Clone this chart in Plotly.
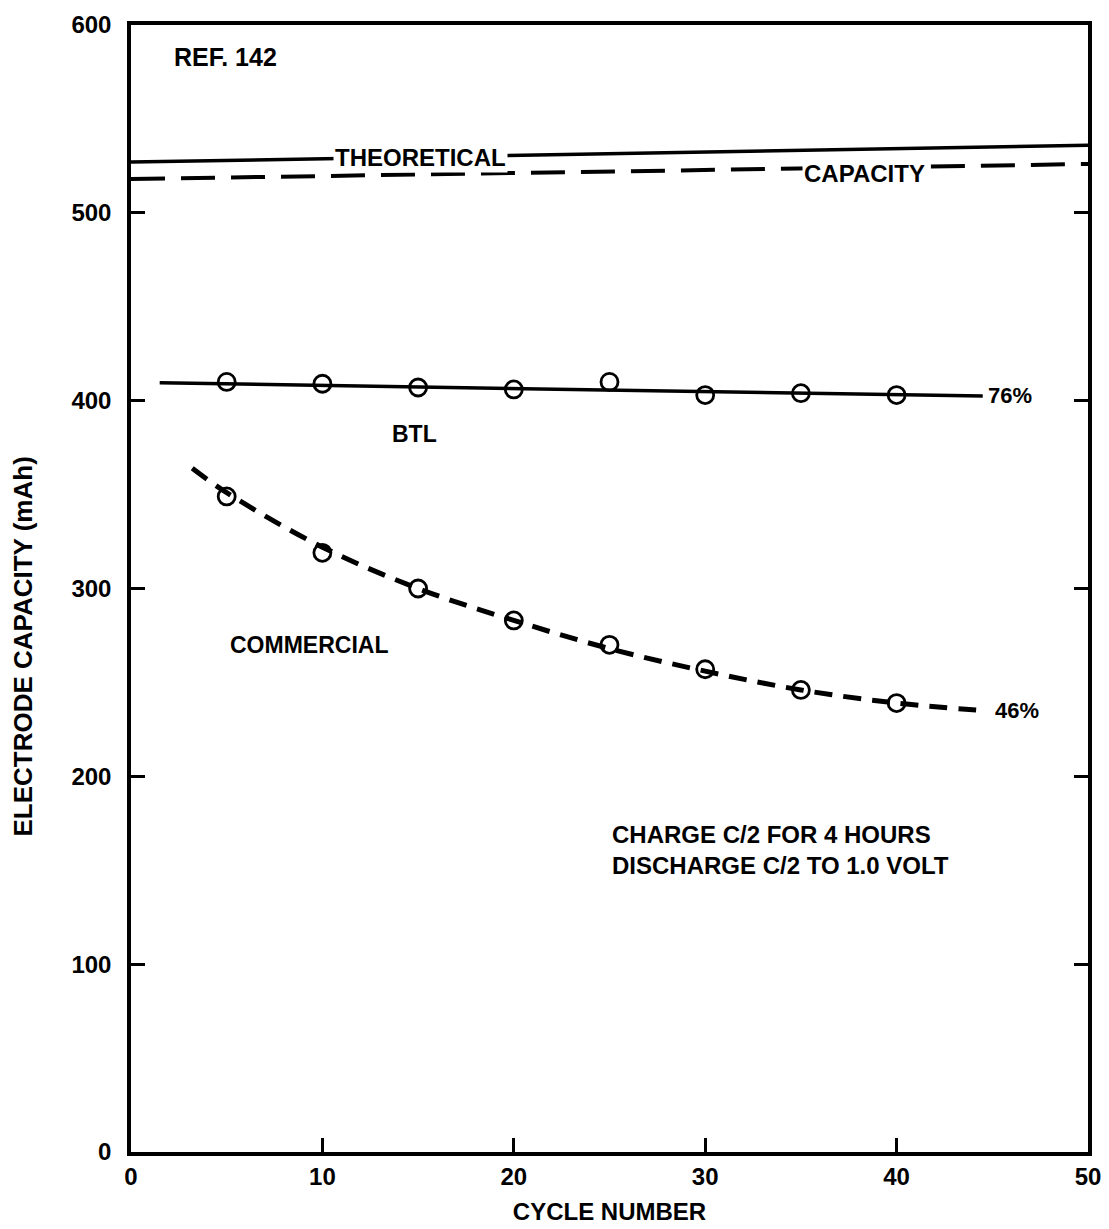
import plotly.graph_objects as go

# --- data ---
cycles = [5, 10, 15, 20, 25, 30, 35, 40]
btl_capacity = [410, 409, 407, 406, 410, 403, 404, 403]
commercial_capacity = [349, 319, 300, 283, 270, 257, 246, 239]

btl_fit_x = [1.5, 44.5]
btl_fit_y = [409.5, 402.5]

commercial_fit_x = [3.2, 5, 10, 15, 20, 25, 30, 35, 40, 44.6]
commercial_fit_y = [364, 351, 322, 300, 283, 268, 256, 246, 239, 235]

theoretical_solid_x = [0, 50]
theoretical_solid_y = [527, 536]
theoretical_dashed_x = [0, 50]
theoretical_dashed_y = [518, 526]

x_ticks = [0, 10, 20, 30, 40, 50]
y_ticks = [0, 100, 200, 300, 400, 500, 600]

FONT = "Liberation Sans"
fig = go.Figure()

fig.add_trace(go.Scatter(x=theoretical_solid_x, y=theoretical_solid_y, mode="lines",
                         line=dict(color="black", width=3.5), showlegend=False))
fig.add_trace(go.Scatter(x=theoretical_dashed_x, y=theoretical_dashed_y, mode="lines",
                         line=dict(color="black", width=4, dash="34px,16px"), showlegend=False))
fig.add_trace(go.Scatter(x=btl_fit_x, y=btl_fit_y, mode="lines",
                         line=dict(color="black", width=3.5), showlegend=False))
fig.add_trace(go.Scatter(x=commercial_fit_x, y=commercial_fit_y, mode="lines",
                         line=dict(color="black", width=5, dash="18px,11px", shape="spline"),
                         showlegend=False))
fig.add_trace(go.Scatter(x=cycles, y=btl_capacity, mode="markers",
                         marker=dict(symbol="circle-open", size=17, color="black",
                                     line=dict(width=2.8, color="black")), showlegend=False))
fig.add_trace(go.Scatter(x=cycles, y=commercial_capacity, mode="markers",
                         marker=dict(symbol="circle-open", size=17, color="black",
                                     line=dict(width=2.8, color="black")), showlegend=False))

def note(x, y, text, size=24, xanchor="center", bg=None, align="center", pad=0):
    fig.add_annotation(x=x, y=y, text=text, showarrow=False, xanchor=xanchor, align=align,
                       font=dict(family=FONT, size=size, color="black", weight="bold"),
                       bgcolor=bg, borderpad=pad)

note(2.2, 583, "REF. 142", size=25, xanchor="left")
note(15.1, 529.5, "THEORETICAL", size=24, bg="white", pad=1)
note(38.3, 521, "CAPACITY", size=24, bg="white", pad=1)
note(14.8, 382, "BTL", size=23)
note(9.3, 270, "COMMERCIAL", size=23)
note(44.7, 403, "76%", size=22, xanchor="left")
note(45.1, 235, "46%", size=22, xanchor="left")
note(25.1, 161, "CHARGE C/2 FOR 4 HOURS<br>DISCHARGE C/2 TO 1.0 VOLT", size=24,
     xanchor="left", align="left")

# y-axis title as rotated text, positioned like the original
fig.add_annotation(xref="paper", yref="y", x=-0.113, y=269, xanchor="center", yanchor="middle",
                   text="ELECTRODE CAPACITY (mAh)", textangle=-90, showarrow=False,
                   font=dict(family=FONT, size=26, color="black", weight="bold"))

fig.update_layout(
    template="none",
    width=1109, height=1229,
    margin=dict(l=123, r=29, t=17, b=85, autoexpand=False),
    paper_bgcolor="white", plot_bgcolor="white",
    font=dict(family=FONT, color="black"),
    xaxis=dict(range=[0, 50], tickvals=x_ticks, showgrid=False, zeroline=False,
               automargin=False, ticklabeloverflow="allow",
               showline=True, linecolor="black", linewidth=3.5, mirror=True,
               ticks="inside", ticklen=14, tickwidth=3, tickcolor="black",
               tickfont=dict(family=FONT, size=24, weight="bold"),
               title=dict(text="CYCLE NUMBER", standoff=16,
                          font=dict(family=FONT, size=24, weight="bold"))),
    yaxis=dict(range=[0, 600], tickvals=y_ticks, showgrid=False, zeroline=False,
               automargin=False, ticklabeloverflow="allow", ticklabelstandoff=11,
               showline=True, linecolor="black", linewidth=3.5, mirror="ticks",
               ticks="inside", ticklen=14, tickwidth=3, tickcolor="black",
               tickfont=dict(family=FONT, size=24, weight="bold")),
)

fig.write_html("out.html")
